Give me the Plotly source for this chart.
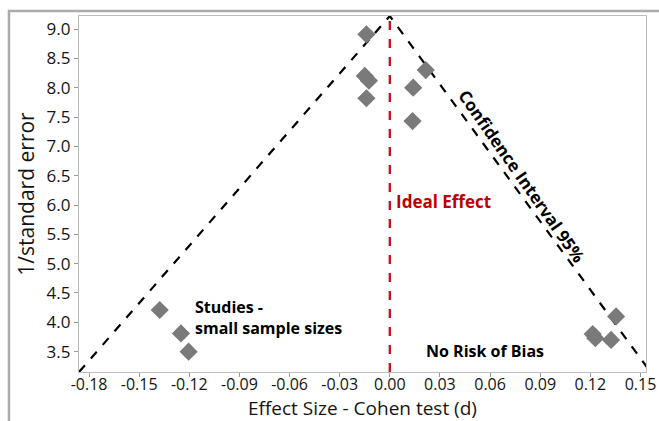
import plotly.graph_objects as go

# Study points (effect size d, 1/standard error)
effect_size = [-0.014, -0.015, -0.0125, -0.014, 0.0215, 0.014, 0.0136,
               -0.1377, -0.125, -0.1204,
               0.1354, 0.1214, 0.123, 0.1324]
precision = [8.91, 8.20, 8.12, 7.82, 8.30, 8.00, 7.43,
             4.21, 3.81, 3.50,
             4.10, 3.80, 3.73, 3.70]

# Funnel (95% confidence interval) and ideal effect line
funnel_x = [-0.186, 0.0, 0.156]
funnel_y = [3.153, 9.222, 3.153]
ideal_x = [0.0, 0.0]
ideal_y = [3.153, 9.222]

x_ticks = [-0.18, -0.15, -0.12, -0.09, -0.06, -0.03, 0.00, 0.03, 0.06, 0.09, 0.12, 0.15]
y_ticks = [3.5, 4.0, 4.5, 5.0, 5.5, 6.0, 6.5, 7.0, 7.5, 8.0, 8.5, 9.0]

FONT = "Open Sans"
TXT = "#141414"

fig = go.Figure()
fig.add_trace(go.Scatter(x=funnel_x, y=funnel_y, mode="lines",
                         line=dict(color="black", width=2.2, dash="dash"),
                         hoverinfo="skip", showlegend=False))
fig.add_trace(go.Scatter(x=ideal_x, y=ideal_y, mode="lines",
                         line=dict(color="#c4141c", width=2.4, dash="dash"),
                         hoverinfo="skip", showlegend=False))
fig.add_trace(go.Scatter(x=effect_size, y=precision, mode="markers",
                         marker=dict(symbol="diamond", size=14, color="#7a7a7a",
                                     line=dict(width=0)),
                         showlegend=False))

axis_common = dict(showgrid=False, zeroline=False, showline=True, mirror=True,
                   linecolor="#bdbdbd", linewidth=1.2, ticks="outside",
                   ticklen=4, tickcolor="#9a9a9a", automargin=False)

fig.update_xaxes(range=[-0.186, 0.1533], tickvals=x_ticks,
                 ticktext=[f"{v:.2f}" for v in x_ticks],
                 ticklabelstandoff=-6,
                 tickfont=dict(family=FONT, size=16, color=TXT),
                 **axis_common)
fig.update_yaxes(range=[3.153, 9.222], tickvals=y_ticks,
                 ticktext=[f"{v:.1f}" for v in y_ticks],
                 tickfont=dict(family=FONT, size=17, color=TXT),
                 title=dict(text="1/standard error", standoff=6,
                            font=dict(family=FONT, size=21, color=TXT)),
                 **axis_common)

# x-axis title placed as an annotation below the tick labels
fig.add_annotation(x=0.5, y=-0.101, xref="paper", yref="paper",
                   text="Effect Size - Cohen test (d)", showarrow=False,
                   xanchor="center", yanchor="middle",
                   font=dict(family=FONT, size=19, color=TXT))

fig.add_annotation(x=0.0792, y=6.49, text="<b>Confidence Interval 95%</b>",
                   textangle=55, showarrow=False,
                   font=dict(family=FONT, size=17, color="black"))
fig.add_annotation(x=0.0022, y=6.06, text="<b>Ideal Effect</b>", xanchor="left",
                   showarrow=False, font=dict(family=FONT, size=17, color="#c00000"))
fig.add_annotation(x=-0.118, y=4.08, text="<b>Studies -<br>small sample sizes</b>",
                   xanchor="left", align="left", showarrow=False,
                   font=dict(family=FONT, size=16, color="black"))
fig.add_annotation(x=0.057, y=3.51, text="<b>No Risk of Bias</b>",
                   showarrow=False, font=dict(family=FONT, size=16, color="black"))

# outer frame (top and left edges)
fig.add_shape(type="path", xref="paper", yref="paper",
              path="M -0.1235,-0.2 L -0.1235,1.014 L 1.05,1.014",
              line=dict(color="#ababab", width=2.5))

fig.update_layout(width=659, height=421,
                  margin=dict(l=79, r=13, t=16, b=49),
                  paper_bgcolor="white", plot_bgcolor="white",
                  font=dict(family=FONT))

fig.write_html("out.html", config={"displayModeBar": False},
               post_script="document.body.style.margin='0px';"
                           "document.body.style.overflow='hidden';")
